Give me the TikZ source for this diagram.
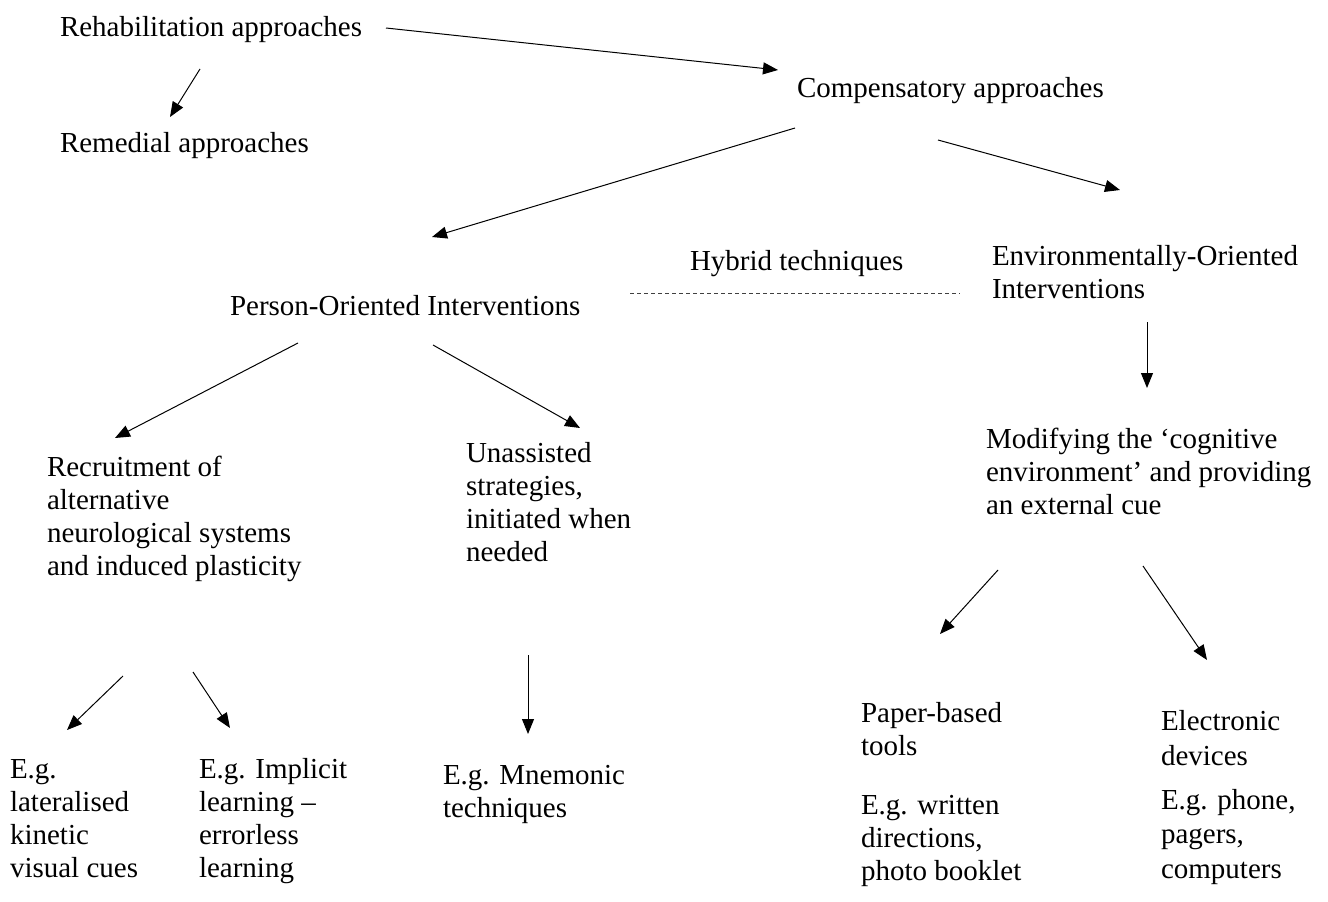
\documentclass[tikz,border=0pt]{standalone}
\usepackage{fontspec}
\setmainfont{Liberation Serif}
\usetikzlibrary{arrows.meta}
\begin{document}
\begin{tikzpicture}[x=1pt,y=-1pt,
  txt/.style={anchor=base west,inner sep=0pt,outer sep=0pt,align=left,
    font=\fontsize{29}{33}\selectfont},
  wide/.style={font=\fontsize{29}{34.5}\selectfont},
  arr/.style={-{Triangle[length=15pt,width=12pt]},line width=1pt,black},
  hyb/.style={dashed,dash pattern=on 4pt off 3pt,line width=0.8pt,black!75}]
\useasboundingbox (0,0) rectangle (1328,902);
% text nodes (base anchor = baseline of the last line)
\node[txt] (rehab) at (60,36) {Rehabilitation approaches};
\node[txt] (remed) at (60,152) {Remedial approaches};
\node[txt] (comp) at (797,97) {Compensatory approaches};
\node[txt] (person) at (230,315) {Person-Oriented Interventions};
\node[txt] (hybrid) at (690,270) {Hybrid techniques};
\node[txt] (env) at (992,298) {Environmentally-Oriented\\Interventions};
\node[txt] (modif) at (986,514) {Modifying the ‘cognitive\\environment’ and providing\\an external cue};
\node[txt] (recr) at (47,575) {Recruitment of\\alternative\\neurological systems\\and induced plasticity};
\node[txt] (unass) at (466,561) {Unassisted\\strategies,\\initiated when\\needed};
\node[txt] (later) at (10,877) {E.g.\\lateralised\\kinetic\\visual cues};
\node[txt] (impl) at (199,877) {E.g. Implicit\\learning –\\errorless\\learning};
\node[txt] (mnem) at (443,817) {E.g. Mnemonic\\techniques};
\node[txt] (paper) at (861,755) {Paper-based\\tools};
\node[txt] (papereg) at (861,880) {E.g. written\\directions,\\photo booklet};
\node[txt,wide] (elec) at (1161,765) {Electronic\\devices};
\node[txt,wide] (eleceg) at (1161,878) {E.g. phone,\\pagers,\\computers};
% connector end points
\coordinate (c1s) at (386,28);   \coordinate (c1e) at (778,70);
\coordinate (c2s) at (200,69);   \coordinate (c2e) at (170,117);
\coordinate (c3s) at (795,128);  \coordinate (c3e) at (432,237);
\coordinate (c4s) at (938,140);  \coordinate (c4e) at (1120,190);
\coordinate (c5s) at (298,343);  \coordinate (c5e) at (115,438);
\coordinate (c6s) at (433,345);  \coordinate (c6e) at (580,428);
\coordinate (c7s) at (1147,322); \coordinate (c7e) at (1147,388);
\coordinate (c8s) at (528,655);  \coordinate (c8e) at (528,734);
\coordinate (c9s) at (123,676);  \coordinate (c9e) at (67,730);
\coordinate (c10s) at (193,672); \coordinate (c10e) at (230,728);
\coordinate (c11s) at (998,570); \coordinate (c11e) at (940,634);
\coordinate (c12s) at (1143,566);\coordinate (c12e) at (1207,660);
\coordinate (hs) at (630,293);   \coordinate (he) at (960,293);
% connectors
\draw[arr] (c1s) -- (c1e);
\draw[arr] (c2s) -- (c2e);
\draw[arr] (c3s) -- (c3e);
\draw[arr] (c4s) -- (c4e);
\draw[arr] (c5s) -- (c5e);
\draw[arr] (c6s) -- (c6e);
\draw[arr] (c7s) -- (c7e);
\draw[arr] (c8s) -- (c8e);
\draw[arr] (c9s) -- (c9e);
\draw[arr] (c10s) -- (c10e);
\draw[arr] (c11s) -- (c11e);
\draw[arr] (c12s) -- (c12e);
\draw[hyb] (hs) -- (he);
\end{tikzpicture}
\end{document}
